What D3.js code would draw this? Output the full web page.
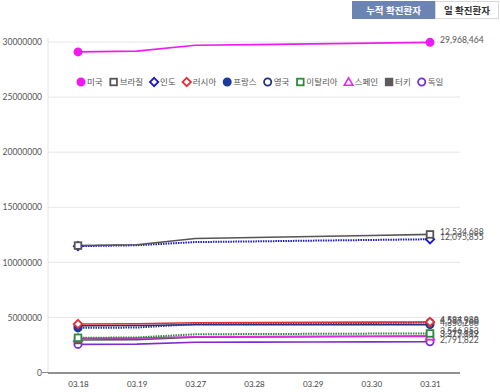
<!DOCTYPE html>
<html><head><meta charset="utf-8">
<script src="https://cdn.jsdelivr.net/npm/d3@7/dist/d3.min.js"></script>
<style>
body{margin:0;background:#fff;}
svg{font-family:Lato,"Noto Sans CJK KR",sans-serif;}
</style></head>
<body>
<svg id="c" width="500" height="392"></svg>
<script>
const dates = ["03.18","03.19","03.27","03.28","03.29","03.30","03.31"];
const names = ["미국","브라질","인도","러시아","프랑스","영국","이탈리아","스페인","터키","독일"];
const us      = [29100000,29170000,29700000,29760000,29830000,29900000,29968464];
const brazil  = [11520000,11600000,12170000,12260000,12350000,12440000,12534688];
const india   = [11470000,11550000,11840000,11900000,11970000,12030000,12095855];
const russia  = [4400000,4420000,4520000,4530000,4550000,4570000,4584988];
const france  = [4050000,4080000,4400000,4440000,4470000,4500000,4537960];
const uk      = [4250000,4260000,4330000,4335000,4340000,4345000,4350266];
const italy   = [3150000,3180000,3470000,3490000,3510000,3530000,3546853];
const spain   = [3100000,3120000,3250000,3260000,3265000,3270000,3275819];
const turkey  = [2950000,2980000,3200000,3230000,3260000,3290000,3317182];
const germany = [2550000,2580000,2750000,2760000,2770000,2780000,2791822];
const seriesValues = [us,brazil,india,russia,france,uk,italy,spain,turkey,germany];
const yTicks = [0,5000000,10000000,15000000,20000000,25000000,30000000];
const buttons = ["누적 확진환자","일 확진환자"];

const styles = [
  {color:"#f01af0", shape:"circle", fill:true,  dash:null},
  {color:"#555555", shape:"square", fill:false, dash:null},
  {color:"#1a1ac8", shape:"diamond",fill:false, dash:"1.5,1"},
  {color:"#e0303a", shape:"diamond",fill:false, dash:null},
  {color:"#1c3a9a", shape:"circle", fill:true,  dash:"1.5,1"},
  {color:"#25307a", shape:"circle", fill:false, dash:null},
  {color:"#2e8b3a", shape:"square", fill:false, dash:"1.5,1"},
  {color:"#e028e0", shape:"triangle",fill:false,dash:null},
  {color:"#5a5a5a", shape:"square", fill:true,  dash:null},
  {color:"#7a30d0", shape:"circle", fill:false, dash:null}
];

const svg = d3.select("#c");
const L = 48, R = 460, T = 42, B = 372.5;
const x = d3.scalePoint().domain(dates).range([78,430]);
const y = d3.scaleLinear().domain([0,30000000]).range([B,T]);

// buttons
svg.append("rect").attr("x",352).attr("y",1).attr("width",83).attr("height",18).attr("fill","#6c84b4");
svg.append("rect").attr("x",435.5).attr("y",1.5).attr("width",63).attr("height",17).attr("fill","#fff").attr("stroke","#d8d8d8");
svg.append("text").attr("x",393.5).attr("y",14).attr("text-anchor","middle").attr("fill","#fff")
  .attr("font-size","9.5px").attr("font-weight","bold").text(buttons[0]);
svg.append("text").attr("x",467).attr("y",14).attr("text-anchor","middle").attr("fill","#333")
  .attr("font-size","9.5px").attr("font-weight","bold").text(buttons[1]);

// grid
const g = svg.append("g");
g.selectAll("line.grid").data(yTicks.filter(d=>d>0)).join("line").attr("class","grid")
  .attr("x1",L).attr("x2",R).attr("y1",d=>y(d)).attr("y2",d=>y(d))
  .attr("stroke","#e6e6e6").attr("stroke-width",1);
g.append("line").attr("x1",L).attr("x2",L).attr("y1",T-4).attr("y2",B).attr("stroke","#e6e6e6");

// y axis
const yAxis = d3.axisLeft(y).tickValues(yTicks).tickFormat(d3.format("d")).tickSize(0).tickPadding(6);
const ya = svg.append("g").attr("transform",`translate(${L},0)`).call(yAxis);
ya.select(".domain").remove();
ya.selectAll("text").attr("fill","#555").attr("font-size","8.5px").attr("font-family","Lato, sans-serif");
svg.append("line").attr("x1",L-6).attr("x2",L).attr("y1",y(0)).attr("y2",y(0)).attr("stroke","#888");

// x axis
const xAxis = d3.axisBottom(x).tickSize(0).tickPadding(9);
const xa = svg.append("g").attr("transform",`translate(0,${B})`).call(xAxis);
xa.select(".domain").remove();
xa.selectAll("text").attr("fill","#444").attr("font-size","8px").attr("font-family","Lato, sans-serif");
svg.append("line").attr("x1",L).attr("x2",R).attr("y1",B+0.5).attr("y2",B+0.5).attr("stroke","#222").attr("stroke-width",1);

function marker(sel, st, cx, cy){
  const fill = st.fill ? st.color : "#fff";
  if(st.shape==="circle"){
    sel.append("circle").attr("cx",cx).attr("cy",cy).attr("r",3.6).attr("fill",fill).attr("stroke",st.color).attr("stroke-width",1.8);
  } else if(st.shape==="square"){
    sel.append("rect").attr("x",cx-3.3).attr("y",cy-3.3).attr("width",6.6).attr("height",6.6).attr("fill",fill).attr("stroke",st.color).attr("stroke-width",1.8);
  } else if(st.shape==="diamond"){
    sel.append("path").attr("d",`M${cx},${cy-4.2}L${cx+4.2},${cy}L${cx},${cy+4.2}L${cx-4.2},${cy}Z`).attr("fill",fill).attr("stroke",st.color).attr("stroke-width",1.8);
  } else {
    sel.append("path").attr("d",`M${cx},${cy-4.2}L${cx+4.3},${cy+3.2}L${cx-4.3},${cy+3.2}Z`).attr("fill",fill).attr("stroke",st.color).attr("stroke-width",1.6);
  }
}

const line = d3.line().x((d,i)=>x(dates[i])).y(d=>y(d));
const order = d3.range(names.length).reverse();
const pg = svg.append("g");
order.forEach(i=>{
  const st = styles[i], vals = seriesValues[i];
  pg.append("path").attr("d",line(vals)).attr("fill","none").attr("stroke",st.color)
    .attr("stroke-width",st.dash?2:1.6).attr("stroke-dasharray",st.dash);
});
order.forEach(i=>{
  const st = styles[i], vals = seriesValues[i];
  marker(pg, st, x(dates[0]), y(vals[0]));
  marker(pg, st, x(dates[dates.length-1]), y(vals[vals.length-1]));
});
const fmt = d3.format(",");
order.forEach(i=>{
  const vals = seriesValues[i];
  pg.append("text").attr("x",x(dates[dates.length-1])+10).attr("y",y(vals[vals.length-1])+1)
    .attr("fill","#555").attr("font-size","8.6px").attr("font-family","Lato, sans-serif")
    .text(fmt(vals[vals.length-1]));
});

// legend
const lg = svg.append("g");
let cx = 81;
const ly = 82;
names.forEach((n,i)=>{
  marker(lg, styles[i], cx, ly);
  const t = lg.append("text").attr("x",cx+6).attr("y",ly+3).attr("fill","#555").attr("font-size","8.5px").text(n);
  const w = t.node().getComputedTextLength();
  cx = cx + 6 + w + 11;
});
</script>
</body></html>
